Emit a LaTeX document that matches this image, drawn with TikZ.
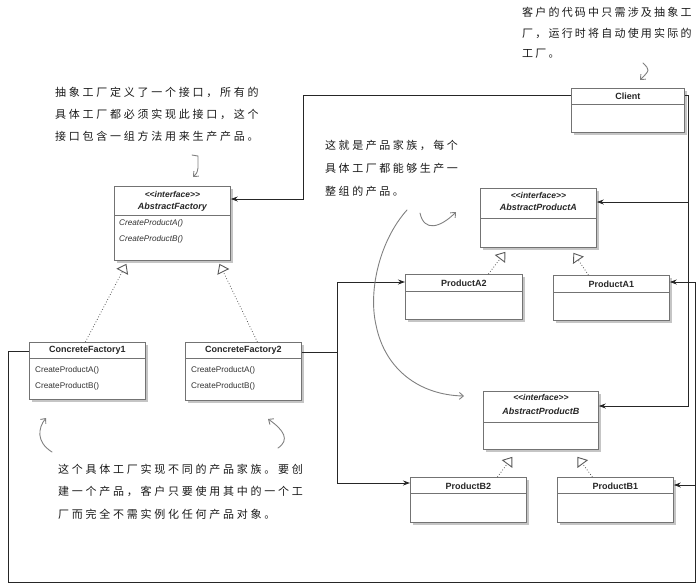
\documentclass[tikz,border=0pt]{standalone}
\usepackage{fontspec}
\setsansfont{Liberation Sans}
\newfontfamily\cjk{Noto Sans CJK SC}
\usetikzlibrary{arrows.meta,shadows}
\begin{document}
\begin{tikzpicture}[x=1pt,y=-1pt,
  umlbox/.style={draw=black!55, line width=0.8pt, fill=white, inner sep=0pt,
    drop shadow={shadow xshift=2.5pt, shadow yshift=-2.5pt, fill=black!45, opacity=0.5}},
  divline/.style={draw=black!55, line width=0.7pt},
  ctitle/.style={font=\sffamily\bfseries\fontsize{9}{10}\selectfont, text=black!85, inner sep=0pt},
  ifacetxt/.style={font=\sffamily\bfseries\itshape\fontsize{8.5}{9}\selectfont, text=black!85, inner sep=0pt},
  anametxt/.style={font=\sffamily\bfseries\itshape\fontsize{9}{10}\selectfont, text=black!85, inner sep=0pt},
  methtxt/.style={font=\sffamily\fontsize{8.2}{9}\selectfont, text=black!80, inner sep=0pt, anchor=west},
  amethtxt/.style={font=\sffamily\itshape\fontsize{8.2}{9}\selectfont, text=black!80, inner sep=0pt, anchor=west},
  conn/.style={draw=black!85, line width=0.9pt, -{Stealth[length=7pt,width=5pt]}},
  wire/.style={draw=black!85, line width=0.9pt},
  realize/.style={draw=black!65, line width=0.8pt, dotted, -{Triangle[open,length=9pt,width=13pt,line width=0.9pt]}},
  hand/.style={draw=black!50, line width=0.9pt, line cap=round, -{Straight Barb[length=4pt,width=7pt]}},
  handtxt/.style={text=black!90, inner sep=0pt, anchor=base west}
]
\useasboundingbox (0,0) rectangle (699,587);

% ---------------- boxes ----------------
\node[umlbox, minimum width=113pt, minimum height=44pt, anchor=north west] (client) at (571,88) {};
\draw[divline] ([yshift=-16pt]client.north west) -- ([yshift=-16pt]client.north east);
\node[ctitle] (clientT) at ([yshift=-8pt]client.north) {Client};

\node[umlbox, minimum width=116pt, minimum height=74pt, anchor=north west] (af) at (114,186) {};
\draw[divline] ([yshift=-29pt]af.north west) -- ([yshift=-29pt]af.north east);
\node[ifacetxt] (afI) at ([yshift=-8pt]af.north) {<{}<interface>{}>};
\node[anametxt] (afN) at ([yshift=-21pt]af.north) {AbstractFactory};
\node[amethtxt] (afM1) at ([xshift=5pt,yshift=-37pt]af.north west) {CreateProductA()};
\node[amethtxt] (afM2) at ([xshift=5pt,yshift=-53pt]af.north west) {CreateProductB()};

\node[umlbox, minimum width=116pt, minimum height=57pt, anchor=north west] (cf1) at (29,342) {};
\draw[divline] ([yshift=-16pt]cf1.north west) -- ([yshift=-16pt]cf1.north east);
\node[ctitle] (cf1T) at ([yshift=-8pt]cf1.north) {ConcreteFactory1};
\node[methtxt] (cf1M1) at ([xshift=6pt,yshift=-28pt]cf1.north west) {CreateProductA()};
\node[methtxt] (cf1M2) at ([xshift=6pt,yshift=-44pt]cf1.north west) {CreateProductB()};

\node[umlbox, minimum width=116pt, minimum height=58pt, anchor=north west] (cf2) at (185,342) {};
\draw[divline] ([yshift=-16pt]cf2.north west) -- ([yshift=-16pt]cf2.north east);
\node[ctitle] (cf2T) at ([yshift=-8pt]cf2.north) {ConcreteFactory2};
\node[methtxt] (cf2M1) at ([xshift=6pt,yshift=-28pt]cf2.north west) {CreateProductA()};
\node[methtxt] (cf2M2) at ([xshift=6pt,yshift=-44pt]cf2.north west) {CreateProductB()};

\node[umlbox, minimum width=116pt, minimum height=59pt, anchor=north west] (apa) at (480,188) {};
\draw[divline] ([yshift=-30pt]apa.north west) -- ([yshift=-30pt]apa.north east);
\node[ifacetxt] (apaI) at ([yshift=-7pt]apa.north) {<{}<interface>{}>};
\node[anametxt] (apaN) at ([yshift=-19pt]apa.north) {AbstractProductA};

\node[umlbox, minimum width=117pt, minimum height=45pt, anchor=north west] (pa2) at (405,274) {};
\draw[divline] ([yshift=-17pt]pa2.north west) -- ([yshift=-17pt]pa2.north east);
\node[ctitle] (pa2T) at ([yshift=-9pt]pa2.north) {ProductA2};

\node[umlbox, minimum width=116pt, minimum height=45pt, anchor=north west] (pa1) at (553,275) {};
\draw[divline] ([yshift=-17pt]pa1.north west) -- ([yshift=-17pt]pa1.north east);
\node[ctitle] (pa1T) at ([yshift=-9pt]pa1.north) {ProductA1};

\node[umlbox, minimum width=115pt, minimum height=58pt, anchor=north west] (apb) at (483,391) {};
\draw[divline] ([yshift=-31pt]apb.north west) -- ([yshift=-31pt]apb.north east);
\node[ifacetxt] (apbI) at ([yshift=-6pt]apb.north) {<{}<interface>{}>};
\node[anametxt] (apbN) at ([yshift=-20pt]apb.north) {AbstractProductB};

\node[umlbox, minimum width=116pt, minimum height=45pt, anchor=north west] (pb2) at (410,477) {};
\draw[divline] ([yshift=-16pt]pb2.north west) -- ([yshift=-16pt]pb2.north east);
\node[ctitle] (pb2T) at ([yshift=-9pt]pb2.north) {ProductB2};

\node[umlbox, minimum width=116pt, minimum height=45pt, anchor=north west] (pb1) at (557,477) {};
\draw[divline] ([yshift=-16pt]pb1.north west) -- ([yshift=-16pt]pb1.north east);
\node[ctitle] (pb1T) at ([yshift=-9pt]pb1.north) {ProductB1};

% ---------------- associations ----------------
\draw[conn] ([yshift=-7pt]client.north west) -- ++(-268,0) |- ([yshift=-13pt]af.north east);
\coordinate (cr) at (688,95);
\draw[wire] ([yshift=-7pt]client.north east) -- (cr);
\draw[conn] (cr) |- ([yshift=-14pt]apa.north east);
\draw[conn] (cr) |- ([yshift=-15pt]apb.north east);

\coordinate (bl) at (8,582);
\coordinate (br) at (695,582);
\draw[conn] ([yshift=-9pt]cf1.north west) -| (bl) -- (br) |- ([yshift=-7pt]pa1.north east);
\draw[conn] (br) |- ([yshift=-8pt]pb1.north east);

\coordinate (j2) at (337,352);
\draw[wire] ([yshift=-10pt]cf2.north east) -- (j2);
\draw[conn] (j2) |- ([yshift=-8pt]pa2.north west);
\draw[conn] (j2) |- ([yshift=-6pt]pb2.north west);

% ---------------- realizations ----------------
\draw[realize] ([xshift=-2pt]cf1.north) -- ([xshift=-46pt,yshift=-3pt]af.south);
\draw[realize] ([xshift=14pt]cf2.north) -- ([xshift=47pt,yshift=-3pt]af.south);
\draw[realize] ([xshift=24.5pt]pa2.north) -- ([xshift=-33pt,yshift=-4pt]apa.south);
\draw[realize] ([xshift=-23pt]pa1.north) -- ([xshift=35pt,yshift=-5pt]apa.south);
\draw[realize] ([xshift=29pt]pb2.north) -- ([xshift=-28.5pt,yshift=-7pt]apb.south);
\draw[realize] ([xshift=-23pt]pb1.north) -- ([xshift=36.5pt,yshift=-7pt]apb.south);

% ---------------- handwritten notes ----------------
\begin{scope}[every node/.append style={font=\cjk\fontsize{11}{13}\selectfont}]
\node[handtxt] (tl1) at (55,96) {\addfontfeatures{LetterSpace=25}抽象工厂定义了一个接口，所有的};
\node[handtxt] (tl2) at (55,118) {\addfontfeatures{LetterSpace=25}具体工厂都必须实现此接口，这个};
\node[handtxt] (tl3) at (55,140) {\addfontfeatures{LetterSpace=25}接口包含一组方法用来生产产品。};

\node[handtxt] (tr1) at (522,16) {\addfontfeatures{LetterSpace=20}客户的代码中只需涉及抽象工};
\node[handtxt] (tr2) at (522,37) {\addfontfeatures{LetterSpace=20}厂，运行时将自动使用实际的};
\node[handtxt] (tr3) at (522,57) {\addfontfeatures{LetterSpace=20}工厂。};

\node[handtxt] (md1) at (325,149) {\addfontfeatures{LetterSpace=23}这就是产品家族，每个};
\node[handtxt] (md2) at (325,172) {\addfontfeatures{LetterSpace=23}具体工厂都能够生产一};
\node[handtxt] (md3) at (325,195) {\addfontfeatures{LetterSpace=23}整组的产品。};

\node[handtxt] (bt1) at (58,473) {\addfontfeatures{LetterSpace=25}这个具体工厂实现不同的产品家族。要创};
\node[handtxt] (bt2) at (58,495) {\addfontfeatures{LetterSpace=25}建一个产品，客户只要使用其中的一个工};
\node[handtxt] (bt3) at (58,518) {\addfontfeatures{LetterSpace=25}厂而完全不需实例化任何产品对象。};
\end{scope}

% hand-drawn arrows
\draw[hand] (192,155) -- (198,156) -- (198,168) .. controls (197,173) .. (193,177);
\draw[hand] (643,63) .. controls (650,70) .. (640,80);
\draw[hand] (420,213) .. controls (424,232) and (440,228) .. (456,212);
\draw[hand] (407,210) .. controls (380,240) and (368,290) .. (376,325) .. controls (385,370) and (420,395) .. (464,396);
\draw[hand] (52,452) .. controls (36,442) and (38,428) .. (46,418);
\draw[hand] (278,448) .. controls (290,440) and (284,430) .. (268,419);
\end{tikzpicture}
\end{document}
